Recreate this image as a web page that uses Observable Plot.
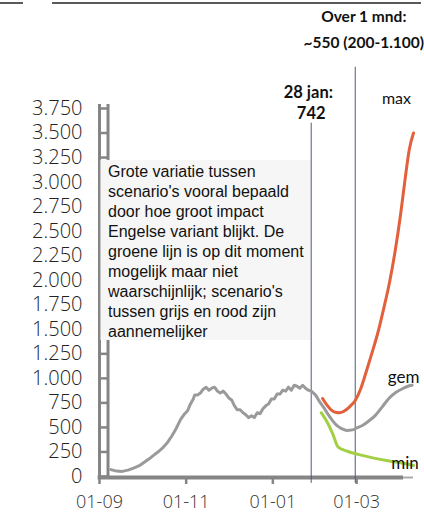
<!DOCTYPE html>
<html><head><meta charset="utf-8">
<script src="https://cdn.jsdelivr.net/npm/d3@7"></script>
<script src="https://cdn.jsdelivr.net/npm/@observablehq/plot@0.6"></script>
<style>
body{margin:0;background:#fff;}
#wrap{position:relative;width:424px;height:515px;overflow:hidden;background:#fff;}
.cut{position:absolute;top:2px;height:2px;background:#5a5a5a;}
#wrap svg{position:absolute;left:0;top:0;}
</style></head><body>
<div id="wrap"><div class="cut" style="left:0;width:23px"></div><div class="cut" style="left:52px;width:369px"></div></div>
<script>
// observed (grey, until 28 jan)
const observedDates = ["2020-09-09","2020-09-13","2020-09-17","2020-09-21","2020-09-25","2020-09-29","2020-10-02","2020-10-06","2020-10-09","2020-10-13","2020-10-16","2020-10-19","2020-10-22","2020-10-25","2020-10-28","2020-10-31","2020-11-02","2020-11-04","2020-11-06","2020-11-07","2020-11-09","2020-11-11","2020-11-13","2020-11-15","2020-11-17","2020-11-19","2020-11-21","2020-11-23","2020-11-25","2020-11-27","2020-11-29","2020-12-01","2020-12-03","2020-12-05","2020-12-07","2020-12-09","2020-12-11","2020-12-13","2020-12-15","2020-12-17","2020-12-19","2020-12-21","2020-12-23","2020-12-25","2020-12-27","2020-12-29","2020-12-31","2021-01-02","2021-01-04","2021-01-06","2021-01-08","2021-01-10","2021-01-12","2021-01-14","2021-01-16","2021-01-18","2021-01-20","2021-01-22","2021-01-24","2021-01-26","2021-01-28"];
const observedValues = [70,55,52,65,85,110,140,180,215,260,300,350,415,490,580,640,670,740,790,830,830,850,890,910,880,900,910,870,850,870,840,800,780,720,680,680,650,630,600,620,600,650,640,690,720,740,790,790,840,840,880,870,910,880,930,920,900,930,900,880,870];
// scenario "gem" (grey)
const gemDates = ["2021-01-28","2021-01-31","2021-02-03","2021-02-06","2021-02-09","2021-02-12","2021-02-15","2021-02-18","2021-02-22","2021-02-26","2021-03-01","2021-03-05","2021-03-09","2021-03-14","2021-03-19","2021-03-24","2021-03-29","2021-04-03","2021-04-07","2021-04-09"];
const gemValues = [870,830,760,700,630,570,520,490,470,475,495,520,560,620,710,800,860,900,925,930];
// scenario "max" (red)
const maxDates = ["2021-02-05","2021-02-08","2021-02-11","2021-02-14","2021-02-17","2021-02-20","2021-02-24","2021-02-28","2021-03-04","2021-03-08","2021-03-12","2021-03-16","2021-03-20","2021-03-24","2021-03-28","2021-04-01","2021-04-04","2021-04-07","2021-04-10"];
const maxValues = [795,730,680,655,650,665,710,775,900,1080,1270,1470,1710,1970,2290,2680,3020,3330,3500];
// scenario "min" (green)
const minDates = ["2021-02-04","2021-02-08","2021-02-12","2021-02-16","2021-02-23","2021-03-05","2021-03-14","2021-03-23","2021-04-01","2021-04-10"];
const minValues = [650,560,440,300,255,215,185,160,140,112];

const yTicks = [0,250,500,750,1000,1250,1500,1750,2000,2250,2500,2750,3000,3250,3500,3750];
const xTicks = ["2020-09-01","2020-11-01","2021-01-01","2021-03-01"];
const markerDates = ["2021-01-28","2021-02-28"];
const boxText = "Grote variatie tussen\nscenario's vooral bepaald\ndoor hoe groot impact\nEngelse variant blijkt. De\ngroene lijn is op dit moment\nmogelijk maar niet\nwaarschijnlijk; scenario's\ntussen grijs en rood zijn\naannemelijker";

const D = s => new Date(s);
const toRows = (ds, vs, s) => ds.map((d, i) => ({date: D(d), value: vs[i], s}));
const observed = toRows(observedDates, observedValues, "obs");
const gem = toRows(gemDates, gemValues, "gem");
const max = toRows(maxDates, maxValues, "max");
const min = toRows(minDates, minValues, "min");

const nl = d3.formatLocale({decimal: ",", thousands: ".", grouping: [3], currency: ["", ""]});
const fmt = nl.format(",");
const axisGrey = "#858585";
const x0 = D("2020-09-01"), x1 = D("2020-09-07");
const calibri = "Lato, 'Open Sans', sans-serif";

const chart = Plot.plot({
  width: 424, height: 515,
  marginLeft: 99, marginRight: 11, marginTop: 108, marginBottom: 39,
  x: {type: "utc", domain: [D("2020-09-01"), D("2021-04-10")], label: null},
  y: {domain: [0, 3750], label: null},
  style: {background: "transparent", overflow: "visible"},
  marks: [
    // ladder-style y axis
    Plot.ruleX([x0, x1], {y1: -20, y2: 3790, stroke: axisGrey, strokeWidth: 3}),
    Plot.ruleY(yTicks, {x1: x0, x2: x1, stroke: axisGrey, strokeWidth: 2.5}),
    Plot.axisY({ticks: yTicks, tickSize: 0, tickPadding: 17, tickFormat: fmt, label: null,
      fontSize: 20, fontWeight: 300, fill: "#222", fontFamily: "'Open Sans', sans-serif"}),
    // x axis bar
    Plot.ruleY([0], {x1: D("2020-08-31"), x2: D("2021-04-03"), dy: 1, stroke: axisGrey, strokeWidth: 4}),
    Plot.ruleY([0], {x1: D("2021-04-03"), x2: D("2021-04-10"), dy: 1, stroke: "#aaa", strokeWidth: 2}),
    Plot.axisX({ticks: xTicks.map(D), tickFormat: d3.utcFormat("%d-%m"), tickSize: 7, dy: 1, label: null,
      tickPadding: 11, fontSize: 18, fontWeight: 300, fill: "#333", stroke: axisGrey, strokeWidth: 2.5,
      fontFamily: "'Open Sans', sans-serif"}),
    // annotation box
    Plot.rect([0], {x1: D("2020-09-02"), x2: D("2021-01-28"), y1: 1386, y2: 3221, fill: "#f6f6f6"}),
    Plot.text([boxText], {x: D("2020-09-07"), y: 3195, text: d => d, textAnchor: "start", lineAnchor: "top",
      lineHeight: 1.25, fontSize: 16, fill: "#111", fontFamily: "'Liberation Sans', Arial, sans-serif"}),
    // marker lines
    Plot.ruleX([D(markerDates[0])], {y1: -70, y2: 3600, stroke: "#4d5b78", strokeWidth: 1}),
    Plot.ruleX([D(markerDates[1])], {y1: -70, y2: 4170, stroke: "#4d5b78", strokeWidth: 1}),
    // data
    Plot.line(observed, {x: "date", y: "value", stroke: "#9a9a9a", strokeWidth: 3}),
    Plot.line(gem, {x: "date", y: "value", stroke: "#9a9a9a", strokeWidth: 3, curve: "monotone-x"}),
    Plot.line(max, {x: "date", y: "value", stroke: "#e2603b", strokeWidth: 3, curve: "monotone-x"}),
    Plot.line(min, {x: "date", y: "value", stroke: "#a3cf45", strokeWidth: 3, curve: "monotone-x"}),
    // labels
    Plot.text(["max"], {x: D("2021-03-29"), y: 3853, text: d => d, fontSize: 16, fill: "#111", fontFamily: calibri}),
    Plot.text(["gem"], {x: D("2021-04-03"), y: 1009, text: d => d, fontSize: 17, fill: "#111", fontFamily: calibri}),
    Plot.text(["min"], {x: D("2021-04-04"), y: 132, text: d => d, fontSize: 17, fill: "#111", fontFamily: calibri}),
    Plot.text(["28 jan:"], {x: D("2021-01-26"), y: 3914, text: d => d, fontSize: 16.5, fontWeight: "bold", fill: "#111", fontFamily: calibri}),
    Plot.text(["742"], {x: D("2021-01-28"), y: 3700, text: d => d, fontSize: 16.5, fontWeight: "bold", fill: "#111", fontFamily: calibri}),
    Plot.text(["Over 1 mnd:"], {x: D("2021-03-06"), y: 4679, text: d => d, fontSize: 15.5, fontWeight: "bold", fill: "#111", fontFamily: calibri}),
    Plot.text(["~550 (200-1.100)"], {x: D("2021-03-06"), y: 4420, text: d => d, fontSize: 15.5, fontWeight: "bold", fill: "#111", fontFamily: calibri})
  ]
});
document.getElementById("wrap").appendChild(chart);
</script>
</body></html>
